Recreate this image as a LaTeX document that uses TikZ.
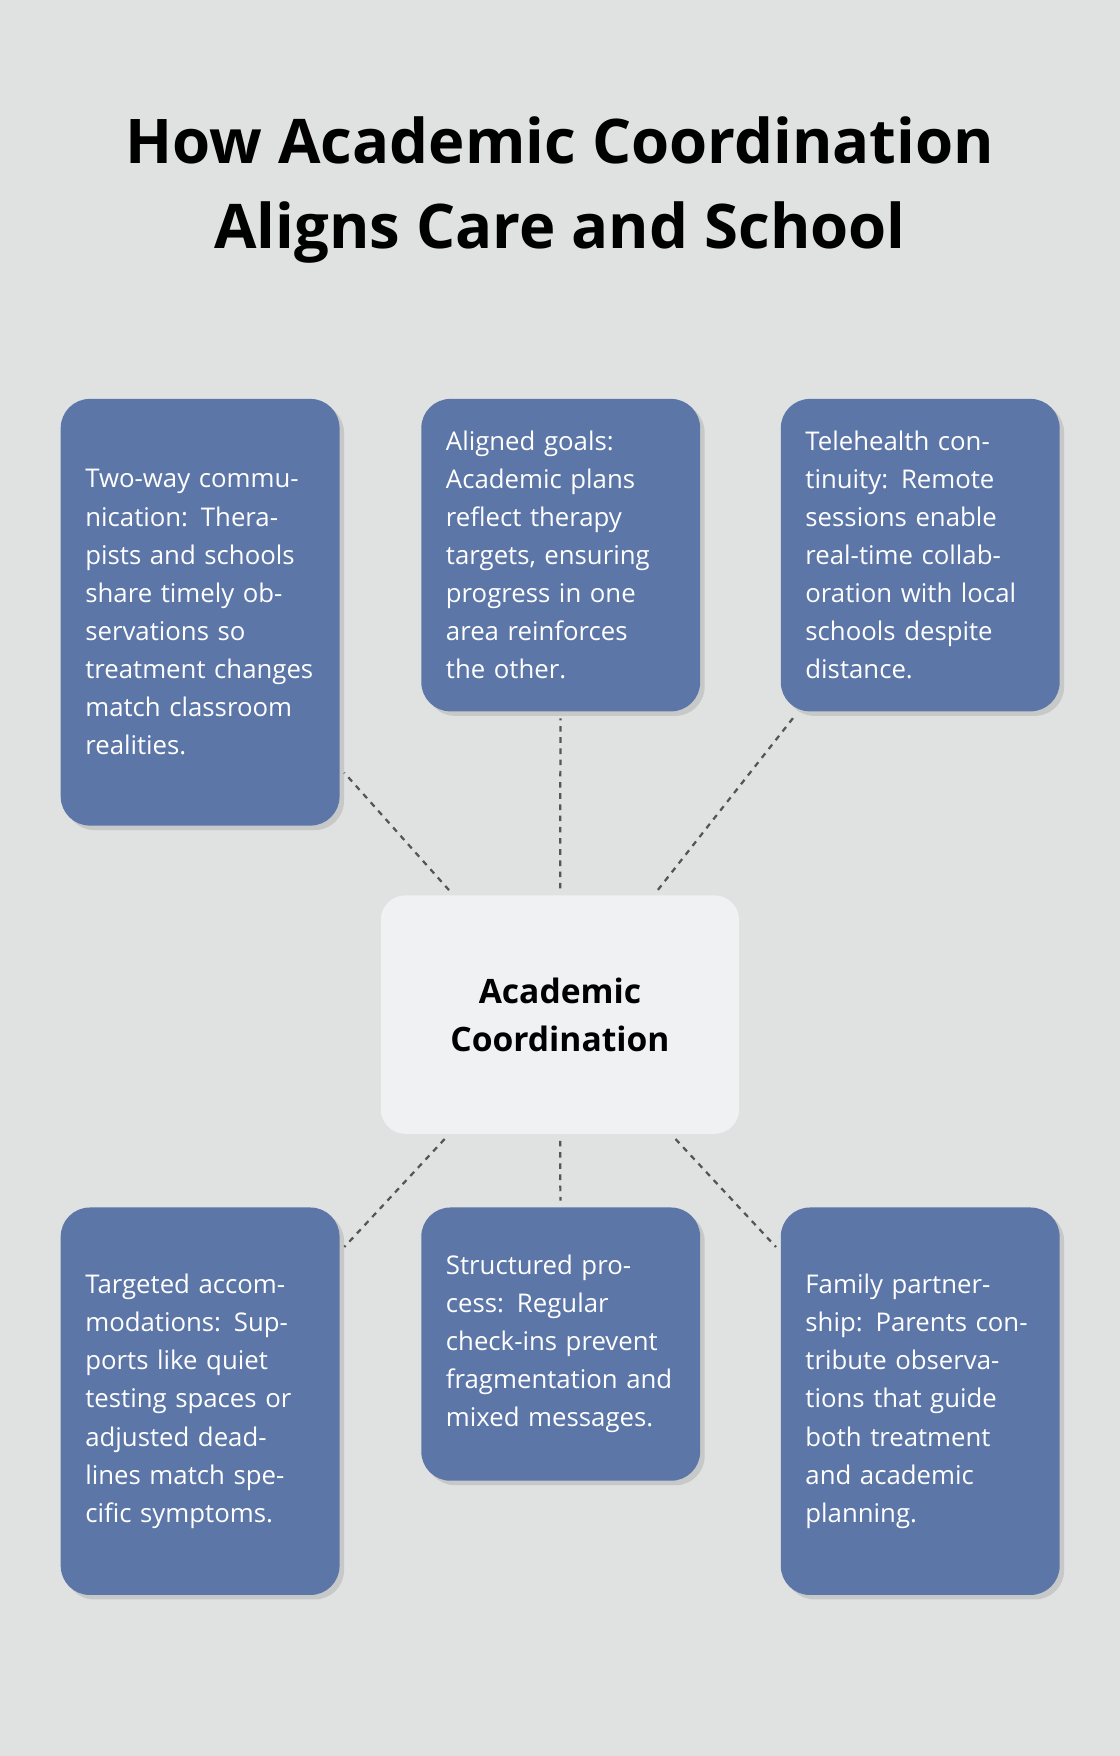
\documentclass[tikz,border=0pt]{standalone}
\usepackage{fontspec}
\setmainfont{Open Sans}
\usetikzlibrary{shadows}
\definecolor{bgcol}{HTML}{DFE2E1}
\definecolor{boxcol}{HTML}{5C76A8}
\definecolor{hubcol}{HTML}{EFF1F3}
\definecolor{linecol}{HTML}{555555}
\tikzset{
	infobox/.style = {rectangle, rounded corners=26pt, fill=boxcol, text=white, anchor=north west,
		text width=205pt, inner xsep=22pt, inner ysep=10pt, align=left,
		font=\fontsize{23}{34}\selectfont, drop shadow={opacity=0.25, shadow xshift=4pt, shadow yshift=-4pt}},
	hub/.style = {rectangle, rounded corners=22pt, fill=hubcol, minimum width=320pt, minimum height=213pt,
		align=center, font=\bfseries\fontsize{30}{43}\selectfont},
	link/.style = {draw=linecol, line width=2pt, dash pattern=on 5pt off 5pt, shorten >=6pt, shorten <=6pt}
}
\begin{document}
\begin{tikzpicture}[x=1pt, y=-1pt]
		\fill[bgcol] (0,0) rectangle (1000,1568);
		\useasboundingbox (0,0) rectangle (1000,1568);
		%title
		\node (title) [align=center, font=\bfseries\fontsize{55}{76}\selectfont] at (500,170) {How Academic Coordination\\Aligns Care and School};
		%boxes
		\node (comm) [infobox, minimum height=381pt] at (54,356) {Two-way communication: Therapists and schools share timely observations so treatment changes match classroom realities.};
		\node (goals) [infobox, minimum height=279pt] at (376,356) {Aligned goals: Academic plans reflect therapy targets, ensuring progress in one area reinforces the other.};
		\node (tele) [infobox, minimum height=279pt] at (697,356) {Telehealth continuity: Remote sessions enable real-time collaboration with local schools despite distance.};
		\node (accom) [infobox, minimum height=346pt] at (54,1078) {Targeted accommodations: Supports like quiet testing spaces or adjusted deadlines match specific symptoms.};
		\node (proc) [infobox, minimum height=244pt] at (376,1078) {Structured process: Regular check-ins prevent fragmentation and mixed messages.};
		\node (family) [infobox, minimum height=346pt] at (697,1078) {Family partnership: Parents contribute observations that guide both treatment and academic planning.};
		\node (coord) [hub] at (500,906) {Academic\\Coordination};
		%links
		\path [link] (coord) -- (comm);
		\path [link] (coord) -- (goals);
		\path [link] (coord) -- (tele);
		\path [link] (coord) -- (accom);
		\path [link] (coord) -- (proc);
		\path [link] (coord) -- (family);
\end{tikzpicture}
\end{document}
